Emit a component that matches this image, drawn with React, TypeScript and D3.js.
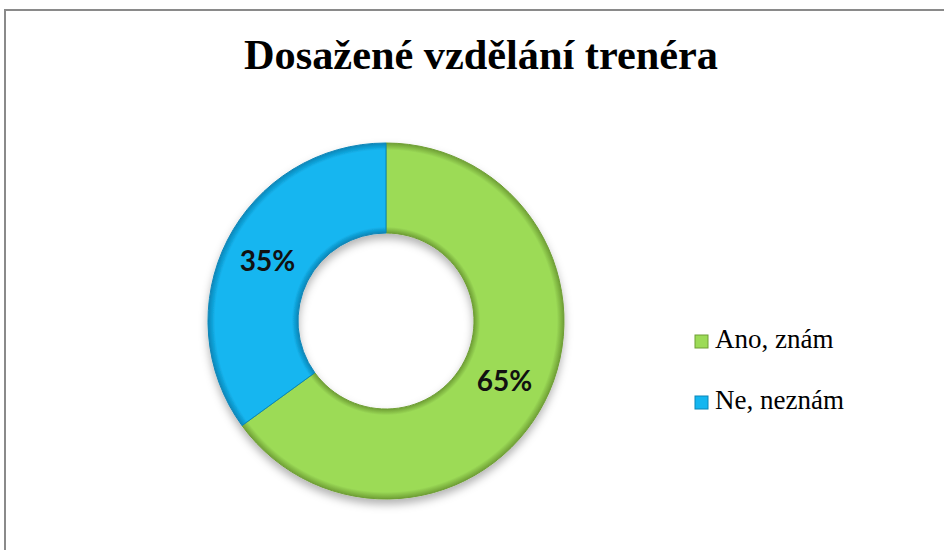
import * as d3 from 'd3'

const categories = ['Ano, znám', 'Ne, neznám']
const values = [65, 35]
const colors = ['#9cdb57', '#14b6f0']
const edgeColors = ['#6f9f35', '#0b86b8']
const title = 'Dosažené vzdělání trenéra'

type Slice = { name: string; value: number; i: number }

export default function App() {
  const width = 944
  const height = 550
  const cx = 386
  const cy = 321
  const outerR = 178
  const innerR = 88

  const data: Slice[] = categories.map((name, i) => ({ name, value: values[i], i }))
  const total = d3.sum(values)

  const pie = d3
    .pie<Slice>()
    .sort(null)
    .value((d) => d.value)
  const arcs = pie(data)

  const arc = d3
    .arc<d3.PieArcDatum<Slice>>()
    .innerRadius(innerR)
    .outerRadius(outerR)

  const legendY = d3.scalePoint<string>().domain(categories).range([348, 409])

  return (
    <svg
      width={width}
      height={height}
      style={{ position: 'absolute', left: 0, top: 0, display: 'block', background: '#fff' }}
    >
      <defs>
        {colors.map((c, i) => (
          <radialGradient
            key={i}
            id={`bevel${i}`}
            gradientUnits="userSpaceOnUse"
            cx={0}
            cy={0}
            r={outerR}
          >
            <stop offset={innerR / outerR} stopColor={edgeColors[i]} />
            <stop offset={innerR / outerR + 0.035} stopColor={c} />
            <stop offset={0.96} stopColor={c} />
            <stop offset={1} stopColor={edgeColors[i]} />
          </radialGradient>
        ))}
        <filter id="shadow" x="-20%" y="-20%" width="140%" height="140%">
          <feDropShadow dx="0" dy="5" stdDeviation="4" floodColor="#000" floodOpacity="0.3" />
        </filter>
      </defs>

      <rect x={5} y={10} width={width + 10} height={height + 10} fill="none" stroke="#8a8a8a" strokeWidth={2} />

      <text
        x={481}
        y={69}
        textAnchor="middle"
        fontFamily="'Liberation Serif', 'Times New Roman', serif"
        fontWeight="bold"
        fontSize={42}
        textLength={474}
        lengthAdjust="spacingAndGlyphs"
        fill="#000"
      >
        {title}
      </text>

      <g transform={`translate(${cx},${cy})`}>
        <g filter="url(#shadow)">
          {arcs.map((a) => (
            <path
              key={a.data.name}
              d={arc(a) as string}
              fill={`url(#bevel${a.data.i})`}
              stroke={edgeColors[a.data.i]}
              strokeWidth={1}
            />
          ))}
        </g>
        {arcs.map((a) => {
          const [lx, ly] = arc.centroid(a)
          return (
            <text
              key={'l' + a.data.name}
              x={lx}
              y={ly}
              dy="0.36em"
              textAnchor="middle"
              fontFamily="Lato, 'Open Sans', sans-serif"
              fontWeight="bold"
              fontSize={28}
              fill="#111"
            >
              {Math.round((a.data.value / total) * 100)}%
            </text>
          )
        })}
      </g>

      {categories.map((name, i) => (
        <g key={name} transform={`translate(695,${legendY(name)})`}>
          <rect x={0} y={-13} width={13} height={13} fill={colors[i]} stroke={edgeColors[i]} strokeWidth={1} />
          <text
            x={20}
            y={0}
            fontFamily="'Liberation Serif', 'Times New Roman', serif"
            fontSize={27}
            fill="#000"
          >
            {name}
          </text>
        </g>
      ))}
    </svg>
  )
}
